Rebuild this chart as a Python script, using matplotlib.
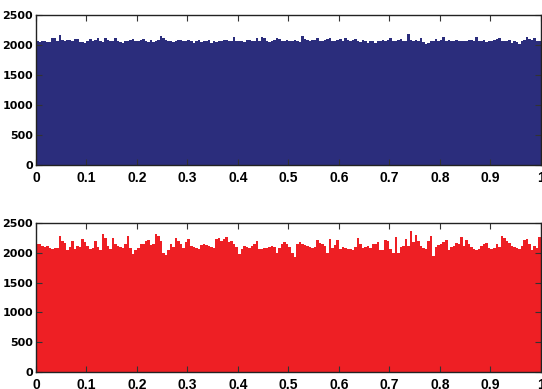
import numpy as np
import matplotlib
matplotlib.use('Agg')
from matplotlib import pyplot as plt

# bin counts, 200 bins over [0, 1]
top_counts = [
    2060, 2050, 2070, 2075, 2045, 2050, 2110, 2115, 2060, 2175, 2080, 2070, 2085, 2090, 2060, 2100, 2105, 2055, 2050, 2040,
    2070, 2095, 2060, 2080, 2110, 2065, 2050, 2120, 2090, 2070, 2060, 2110, 2075, 2055, 2030, 2060, 2075, 2090, 2100, 2065,
    2060, 2090, 2100, 2060, 2045, 2080, 2050, 2070, 2090, 2150, 2120, 2085, 2060, 2070, 2050, 2065, 2080, 2090, 2060, 2075,
    2080, 2060, 2030, 2070, 2090, 2055, 2060, 2070, 2085, 2040, 2065, 2050, 2075, 2060, 2085, 2080, 2070, 2060, 2130, 2075,
    2060, 2070, 2050, 2085, 2080, 2065, 2070, 2120, 2075, 2130, 2110, 2060, 2055, 2070, 2085, 2125, 2095, 2070, 2060, 2080,
    2065, 2060, 2080, 2070, 2050, 2150, 2100, 2080, 2065, 2090, 2085, 2125, 2070, 2060, 2080, 2095, 2120, 2075, 2060, 2090,
    2100, 2070, 2110, 2080, 2060, 2085, 2100, 2070, 2050, 2090, 2075, 2040, 2060, 2070, 2030, 2075, 2070, 2085, 2060, 2080,
    2120, 2070, 2060, 2080, 2100, 2060, 2070, 2180, 2090, 2060, 2085, 2075, 2120, 2050, 2010, 2040, 2060, 2070, 2100, 2060,
    2080, 2140, 2070, 2090, 2060, 2070, 2080, 2075, 2060, 2070, 2065, 2080, 2090, 2075, 2130, 2070, 2060, 2080, 2050, 2070,
    2060, 2080, 2100, 2120, 2075, 2060, 2070, 2080, 2040, 2060, 2050, 2010, 2070, 2080, 2130, 2100, 2080, 2120, 2060, 2070,
]

bottom_counts = [
    2140, 2145, 2120, 2100, 2110, 2075, 2070, 2085, 2080, 2290, 2200, 2160, 2050, 2100, 2200, 2070, 2110, 2090, 2230, 2180,
    2110, 2060, 2080, 2200, 2100, 2050, 2320, 2250, 2110, 2060, 2250, 2150, 2110, 2100, 2080, 2150, 2280, 2080, 1980, 2040,
    2080, 2150, 2140, 2200, 2220, 2130, 2150, 2310, 2290, 2200, 2000, 1970, 2050, 2140, 2100, 2250, 2200, 2140, 2080, 2180,
    2230, 2120, 2100, 2080, 2060, 2130, 2150, 2130, 2120, 2100, 2080, 2240, 2250, 2200, 2230, 2270, 2180, 2190, 2150, 2100,
    1980, 2060, 2110, 2100, 2080, 2110, 2140, 2190, 2060, 2070, 2080, 2075, 2100, 2110, 2100, 2000, 2080, 2150, 2180, 2140,
    2100, 1990, 1930, 2140, 2180, 2150, 2130, 2110, 2090, 2080, 2100, 2220, 2170, 2140, 2120, 1990, 2240, 2080, 2130, 2220,
    2070, 2090, 2080, 2070, 2060, 2040, 2100, 2250, 2140, 2080, 2100, 2110, 2080, 2140, 2150, 2180, 2050, 2040, 2210, 2200,
    2060, 2000, 2260, 2000, 2100, 2110, 2240, 2120, 2360, 2180, 2300, 2200, 2120, 2080, 2060, 2200, 2280, 1950, 2090, 2130,
    2140, 2180, 2210, 2040, 2090, 2120, 2160, 2140, 2260, 2110, 2220, 2150, 2090, 2060, 2050, 2070, 2110, 2150, 2160, 2080,
    2060, 2080, 2150, 2090, 2280, 2250, 2200, 2160, 2120, 2090, 2080, 2070, 2120, 2220, 2230, 2150, 2040, 2110, 2080, 2270,
]

x_ticks = [0, 0.1, 0.2, 0.3, 0.4, 0.5, 0.6, 0.7, 0.8, 0.9, 1]
x_labels = ['0', '0.1', '0.2', '0.3', '0.4', '0.5', '0.6', '0.7', '0.8', '0.9', '1']
y_ticks = [0, 500, 1000, 1500, 2000, 2500]

fig = plt.figure(figsize=(5.42, 3.89), dpi=100)
ax1 = fig.add_axes([0.0664, 0.5758, 0.9317, 0.3856])
ax2 = fig.add_axes([0.0664, 0.0437, 0.9317, 0.3830])

for ax, counts, color in [(ax1, top_counts, '#2b2d7c'), (ax2, bottom_counts, '#ee1f24')]:
    n = len(counts)
    edges = np.linspace(0, 1, n + 1)
    ax.bar(edges[:-1], counts, width=1.0 / n, align='edge', color=color, linewidth=0)
    ax.set_xlim(0, 1)
    ax.set_ylim(0, 2500)
    ax.set_xticks(x_ticks)
    ax.set_xticklabels(x_labels, family=['Liberation Sans', 'DejaVu Sans'],
                       fontweight='bold', fontsize=10)
    ax.set_yticks(y_ticks)
    ax.set_yticklabels([str(v) for v in y_ticks], family=['DejaVu Sans'],
                       fontweight='bold', fontsize=8)
    ax.tick_params(direction='in', length=4, width=0.8, top=True, right=True,
                   color='#333333')
    ax.tick_params(axis='x', pad=4)
    ax.tick_params(axis='y', pad=2)
    for s in ax.spines.values():
        s.set_linewidth(1.0)
        s.set_color('#222222')
        s.set_zorder(3)

fig.savefig('out.png', dpi=100)
